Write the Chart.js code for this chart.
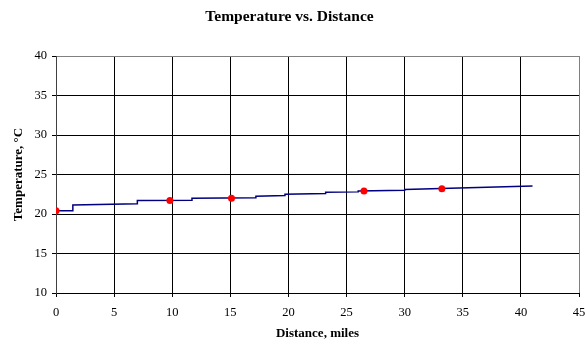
<!DOCTYPE html>
<html>
<head>
<meta charset="utf-8">
<script src="https://cdn.jsdelivr.net/npm/chart.js@4/dist/chart.umd.min.js"></script>
<style>
  html, body { margin: 0; padding: 0; background: #fff; }
</style>
</head>
<body>
<canvas id="myChart" width="585" height="345"></canvas>
<script>
// trace of temperature along the route (vertices of the stepped line)
const traceDistance = [0, 1.45, 1.45, 7.0, 7.0, 11.7, 11.7, 17.2, 17.2, 19.7, 19.7, 23.2, 23.2, 26.0, 26.0, 30.0, 30.0, 41.0];
const traceTemp = [20.4, 20.4, 21.15, 21.3, 21.7, 21.75, 22.0, 22.05, 22.25, 22.35, 22.5, 22.6, 22.75, 22.8, 22.9, 23.0, 23.1, 23.55];
// measured samples (red dots)
const sampleDistance = [0, 9.8, 15.1, 26.5, 33.2];
const sampleTemp = [20.4, 21.7, 22.0, 22.9, 23.2];
// axes
const xTicks = [0, 5, 10, 15, 20, 25, 30, 35, 40, 45];
const yTicks = [10, 15, 20, 25, 30, 35, 40];

const serif = "'Liberation Serif', 'Times New Roman', serif";
const ctx = document.getElementById('myChart').getContext('2d');

function toPoints(xs, ys) {
    return xs.map((x, i) => ({ x: x, y: ys[i] }));
}

const myChart = new Chart(ctx, {
    type: 'scatter',
    data: {
        datasets: [{
            label: 'Samples',
            data: toPoints(sampleDistance, sampleTemp),
            backgroundColor: '#ff0000',
            borderColor: '#ff0000',
            pointRadius: 3.5,
            pointBorderWidth: 0,
            showLine: false,
            order: 0
        }, {
            label: 'Temperature',
            data: toPoints(traceDistance, traceTemp),
            borderColor: '#000080',
            borderWidth: 1.5,
            pointRadius: 0,
            showLine: true,
            tension: 0,
            fill: false,
            order: 1
        }]
    },
    options: {
        responsive: false,
        animation: false,
        layout: { padding: { left: 0, right: 6, top: 0, bottom: 0 } },
        plugins: {
            legend: { display: false },
            tooltip: { enabled: false },
            title: {
                display: true,
                text: 'Temperature vs. Distance',
                color: '#000',
                font: { family: serif, size: 15.5, weight: 'bold' },
                padding: { top: 7.2, bottom: 30.2 }
            }
        },
        scales: {
            x: {
                type: 'linear',
                min: xTicks[0],
                max: xTicks[xTicks.length - 1],
                afterBuildTicks: (scale) => { scale.ticks = xTicks.map(v => ({ value: v })); },
                afterFit: (scale) => {
                    scale.height = 52;
                    scale.paddingLeft = 0;
                    scale.paddingRight = 0;
                },
                ticks: {
                    color: '#000',
                    font: { family: serif, size: 12.5 },
                    padding: 8,
                    maxRotation: 0,
                    autoSkip: false
                },
                grid: {
                    color: (c) => c.tick && c.tick.value === 45 ? '#808080' : '#000',
                    tickColor: '#000',
                    tickLength: 4,
                    lineWidth: 1
                },
                border: { color: '#000', width: 1 },
                title: {
                    display: true,
                    text: 'Distance, miles',
                    color: '#000',
                    font: { family: serif, size: 13, weight: 'bold' },
                    padding: { top: 0, bottom: 3.9 }
                }
            },
            y: {
                type: 'linear',
                min: yTicks[0],
                max: yTicks[yTicks.length - 1],
                afterBuildTicks: (scale) => { scale.ticks = yTicks.map(v => ({ value: v })); },
                afterFit: (scale) => { scale.width = 56; },
                ticks: {
                    color: '#000',
                    font: { family: serif, size: 12.5 },
                    padding: 5
                },
                grid: {
                    color: (c) => c.tick && c.tick.value === 40 ? '#808080' : '#000',
                    tickColor: '#000',
                    tickLength: 4,
                    lineWidth: 1
                },
                border: { color: '#404040', width: 1 },
                title: {
                    display: true,
                    text: 'Temperature, °C',
                    color: '#000',
                    font: { family: serif, size: 13, weight: 'bold' },
                    padding: { top: 10.5, bottom: 0 }
                }
            }
        }
    }
});
</script>
</body>
</html>
